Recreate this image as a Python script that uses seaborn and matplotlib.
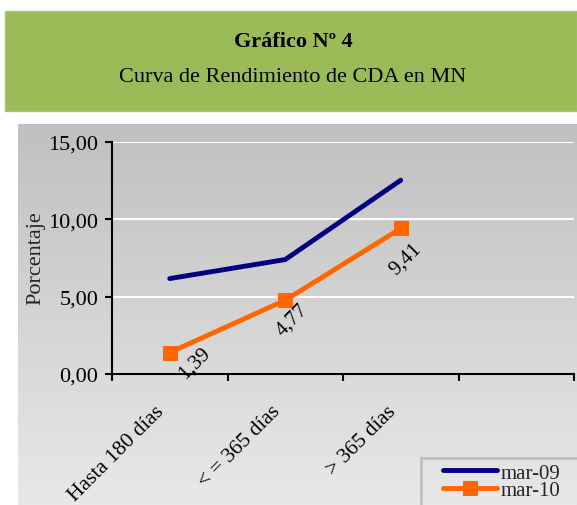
import matplotlib
matplotlib.use('Agg')
import matplotlib.pyplot as plt
import seaborn as sns
import numpy as np
import pandas as pd
from matplotlib.patches import Rectangle
from matplotlib.colors import LinearSegmentedColormap
from matplotlib.transforms import ScaledTranslation

# ---- data ----
categories = ['Hasta 180 días', '< = 365 días', '> 365 días']
mar09 = [6.17, 7.40, 12.53]
mar10 = [1.39, 4.77, 9.41]
series_names = ['mar-09', 'mar-10']
value_labels = ['1,39', '4,77', '9,41']
yticks = [0, 5, 10, 15]
ytick_labels = ['0,00', '5,00', '10,00', '15,00']

# ---- style ----
sns.set_theme(style='white')
plt.rcParams['font.family'] = ['Liberation Serif', 'DejaVu Serif']

W, H = 577, 506
fig = plt.figure(figsize=(W / 100, H / 100), dpi=100)
fig.patch.set_facecolor('white')

# green title banner
fig.patches.append(Rectangle((5 / W, 1 - 112 / H), 1 - 5 / W, 100 / H,
                             transform=fig.transFigure, facecolor='#9BBB59',
                             edgecolor='#A9C46C', lw=1, zorder=0))
fig.text(293 / W, 1 - 42 / H, 'Gráfico Nº 4', ha='center', va='center',
         fontsize=16, fontweight='bold', color='black')
fig.text(293 / W, 1 - 78 / H, 'Curva de Rendimiento de CDA en MN', ha='center',
         va='center', fontsize=16, color='black')

# gradient chart area
bg = fig.add_axes([18 / W, 0, 1 - 18 / W, 1 - 125 / H], zorder=0)
grad = np.linspace(0, 1, 256).reshape(-1, 1)
cmap = LinearSegmentedColormap.from_list('g', ['#C0C0C0', '#E8E8E8'])
bg.imshow(grad, aspect='auto', cmap=cmap, extent=[0, 1, 0, 1], origin='upper')
bg.set_axis_off()

# main axes
ax = fig.add_axes([112 / W, 1 - 375 / H, 462 / W, 232 / H], zorder=1)
ax.patch.set_alpha(0)

pos = list(range(len(categories)))
df = pd.DataFrame({
    'pos': pos * 2,
    'val': mar09 + mar10,
    'serie': [series_names[0]] * len(pos) + [series_names[1]] * len(pos),
})

sns.lineplot(data=df[df.serie == series_names[0]], x='pos', y='val', ax=ax,
             color='#000080', lw=3.5, sort=False, legend=False,
             solid_capstyle='round', solid_joinstyle='round')
sns.lineplot(data=df[df.serie == series_names[1]], x='pos', y='val', ax=ax,
             color='#FF6600', lw=3.5, marker='s', markersize=10,
             markeredgecolor='#FF6600', sort=False, legend=False,
             solid_capstyle='round', solid_joinstyle='round')

ax.set_xlim(-0.5, len(categories) + 0.5)
ax.set_ylim(yticks[0], yticks[-1])
ax.set_xticks(np.arange(-0.5, len(categories) + 0.6, 1.0))
ax.set_xticklabels([])
ax.set_yticks(yticks)
ax.set_yticklabels(ytick_labels, fontsize=16)
ax.set_xlabel('')
ax.set_ylabel('Porcentaje', fontsize=16)
ax.yaxis.set_label_coords((36 - 112) / 462, (375 - 258) / 232)
ax.yaxis.label.set_va('center')

for side in ['top', 'right']:
    ax.spines[side].set_visible(False)
for side in ['left', 'bottom']:
    ax.spines[side].set_color('black')
    ax.spines[side].set_linewidth(1.5)
ax.tick_params(axis='both', which='major', bottom=True, left=True,
               direction='out', length=5, width=1.5, color='black',
               labelcolor='black', pad=5)
ax.yaxis.grid(True, color='white', lw=1.5)
ax.xaxis.grid(False)
ax.set_axisbelow(True)

# category labels
off = ScaledTranslation(-8 / 100, -34 / 100, fig.dpi_scale_trans)
for p, c in zip(pos, categories):
    ax.text(p, 0, c, transform=ax.get_xaxis_transform() + off, rotation=45,
            rotation_mode='anchor', ha='right', va='center', fontsize=15.5,
            color='black')

# data labels
label_offsets = [(25, -10), (7, -19), (5, -30)]
for p, v, t, o in zip(pos, mar10, value_labels, label_offsets):
    ax.annotate(t, (p, v), xytext=o, textcoords='offset pixels', rotation=45,
                ha='center', va='center', fontsize=15, color='black')

# legend
fig.patches.append(Rectangle((421 / W, -0.2), 1, (1 - 459 / H) + 0.2,
                             transform=fig.transFigure, fill=False,
                             edgecolor='#BFBFBF', lw=2, zorder=5))
handles = ax.get_lines()[:2]
leg = ax.legend(handles, series_names, loc='upper left',
                bbox_to_anchor=(443 / W, 1 - 464 / H),
                bbox_transform=fig.transFigure, frameon=False,
                handlelength=2.6, handletextpad=0.15, labelspacing=-0.1,
                borderpad=0, borderaxespad=0, fontsize=15)

fig.savefig('out.png', dpi=100)
